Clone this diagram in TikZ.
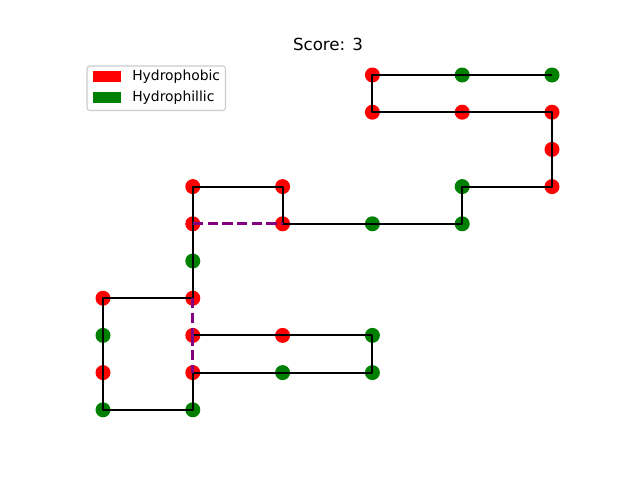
\documentclass[tikz,border=0pt]{standalone}
\usepackage{fontspec}
\setmainfont{DejaVu Sans}
\definecolor{hred}{rgb}{1,0,0}
\definecolor{hgreen}{RGB}{0,128,0}
\definecolor{cpurple}{RGB}{128,0,128}
\begin{document}
\begin{tikzpicture}[x=0.72pt,y=-0.72pt,
  dot/.style={circle,inner sep=0pt,minimum size=10.8pt},
  H/.style={dot,fill=hred},
  P/.style={dot,fill=hgreen},
  chainline/.style={line width=1.5pt,black,line join=round},
  contact/.style={line width=2pt,cpurple,dash pattern=on 7.4pt off 3.2pt},
  legtext/.style={anchor=west,inner sep=0pt,font=\fontsize{10}{12}\selectfont},
  patchbox/.style={draw=none}]
\useasboundingbox (0,0) rectangle (640,480);
\foreach \n/\c/\r/\t in {1/5/0/P,2/4/0/P,3/3/0/H,4/3/1/H,5/4/1/H,6/5/1/H,7/5/2/H,8/5/3/H,
  9/4/3/P,10/4/4/P,11/3/4/P,12/2/4/H,13/2/3/H,14/1/3/H,15/1/4/H,16/1/5/P,17/1/6/H,
  18/0/6/H,19/0/7/P,20/0/8/H,21/0/9/P,22/1/9/P,23/1/8/H,24/2/8/P,25/3/8/P,26/3/7/P,
  27/2/7/H,28/1/7/H}
  \node[\t] (n\n) at ({103+89.8*\c},{75+37.2*\r}) {};
\draw[chainline] (n1.center) \foreach \i in {2,...,28}{ -- (n\i.center)};
\draw[contact] (n15.center) -- (n12.center);
\draw[contact] (n17.center) -- (n28.center);
\draw[contact] (n28.center) -- (n23.center);
% title
\node[font=\fontsize{12}{14}\selectfont] (title) at (328,44) {Score: 3};
% legend
\draw[draw=black!20,fill=white,line width=0.8pt,rounded corners=2pt] (87,66) rectangle (225.5,110.5);
\fill[hred] (93,71) rectangle (121,81.5);
\fill[hgreen] (93,92) rectangle (121,102.5);
\node[legtext] (l1) at (132,76.5) {Hydrophobic};
\node[legtext] (l2) at (132,97.5) {Hydrophillic};
\end{tikzpicture}
\end{document}
